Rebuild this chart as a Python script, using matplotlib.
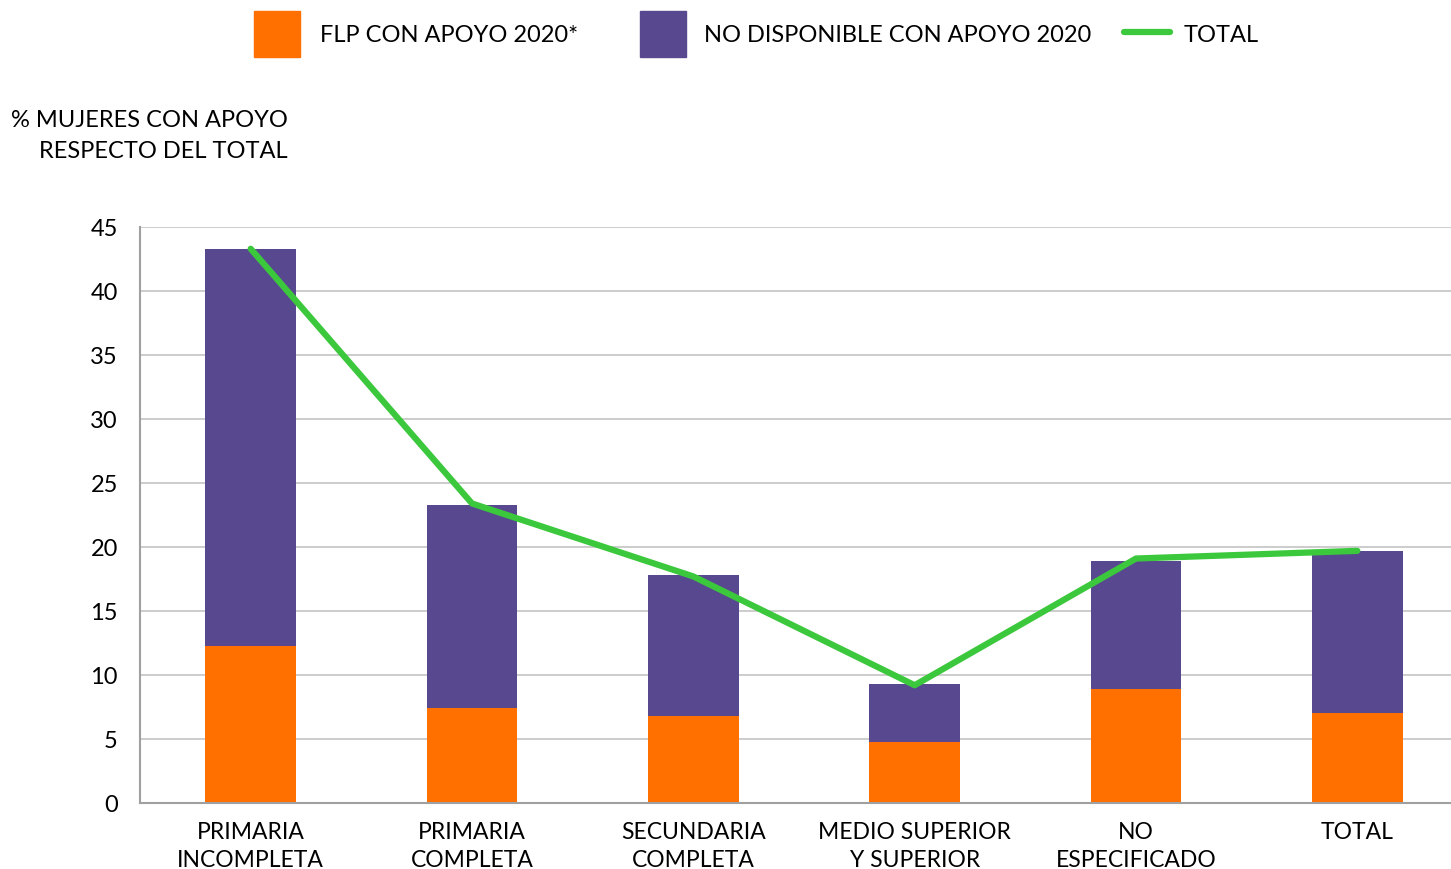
import numpy as np
import matplotlib.pyplot as plt
from matplotlib.patches import Rectangle
from matplotlib.lines import Line2D

plt.rcParams['font.family'] = ['Lato', 'DejaVu Sans']

categorias = ["PRIMARIA\nINCOMPLETA", "PRIMARIA\nCOMPLETA", "SECUNDARIA\nCOMPLETA",
              "MEDIO SUPERIOR\nY SUPERIOR", "NO\nESPECIFICADO", "TOTAL"]
flp_con_apoyo = [12.3, 7.4, 6.8, 4.8, 8.9, 7.0]
no_disponible = [31.0, 15.9, 11.0, 4.5, 10.0, 12.7]
total = [43.3, 23.4, 17.7, 9.2, 19.1, 19.7]
etiquetas = ["FLP CON APOYO 2020*", "NO DISPONIBLE CON APOYO 2020", "TOTAL"]

naranja = "#FF7000"
morado = "#58488F"
verde = "#3CC83C"

W, H = 1451, 869
fig = plt.figure(figsize=(W / 100, H / 100), dpi=100)
ax = fig.add_axes([140 / W, 1 - 803 / H, 1328 / W, 576 / H])

x = np.arange(len(categorias))
ancho = 0.41
ax.bar(x, flp_con_apoyo, ancho, color=naranja, zorder=2)
ax.bar(x, no_disponible, ancho, bottom=flp_con_apoyo, color=morado, zorder=2)
ax.plot(x, total, color=verde, linewidth=4.5, zorder=3, solid_capstyle='round')

ax.set_xlim(-0.5, 5.5)
ax.set_ylim(0, 45)
ax.set_yticks(range(0, 46, 5))
ax.set_xticks(x)
ax.set_xticklabels(categorias, fontsize=16.5, linespacing=1.4)
ax.tick_params(axis='y', labelsize=17, length=0, pad=16)
ax.tick_params(axis='x', length=0, pad=14)
ax.yaxis.grid(True, color="#C8C8C8", linewidth=1.3, zorder=0)
ax.set_axisbelow(True)
for lado in ["top", "right"]:
    ax.spines[lado].set_visible(False)
for lado in ["left", "bottom"]:
    ax.spines[lado].set_color("#A0A0A0")
    ax.spines[lado].set_linewidth(1.5)

fig.text(288 / W, 1 - 136 / H, "% MUJERES CON APOYO\nRESPECTO DEL TOTAL", fontsize=17,
         ha="right", va="center", linespacing=1.55)

# leyenda manual
yc = 1 - 35 / H
fig.patches.append(Rectangle((254 / W, 1 - 57 / H), 46 / W, 46 / H, color=naranja,
                             transform=fig.transFigure))
fig.text(320 / W, yc, etiquetas[0], fontsize=17, va="center")
fig.patches.append(Rectangle((640 / W, 1 - 57 / H), 46 / W, 46 / H, color=morado,
                             transform=fig.transFigure))
fig.text(704 / W, yc, etiquetas[1], fontsize=17, va="center")
fig.lines.append(Line2D([1124 / W, 1170 / W], [1 - 32 / H, 1 - 32 / H], color=verde,
                        linewidth=4.5, solid_capstyle='round', transform=fig.transFigure))
fig.text(1184 / W, yc, etiquetas[2], fontsize=17, va="center")

fig.savefig("out.png", dpi=100)
